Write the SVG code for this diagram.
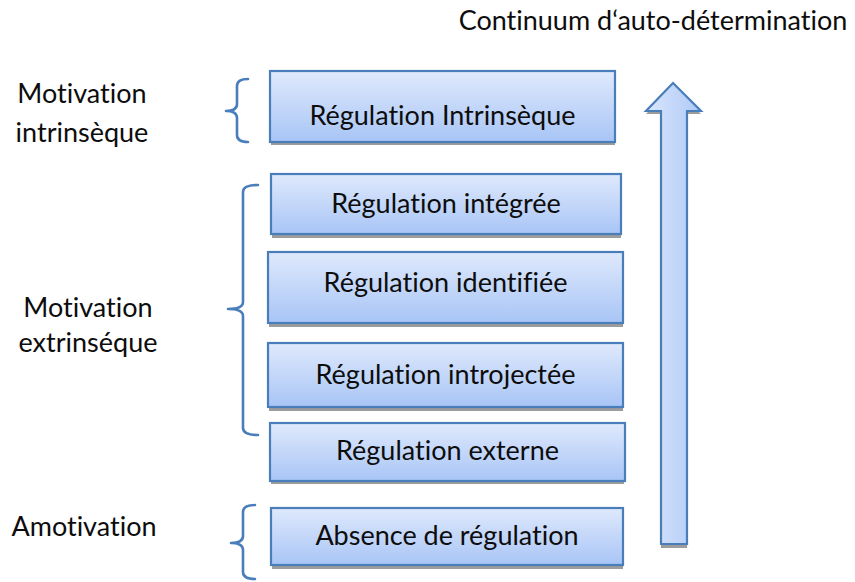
<svg xmlns="http://www.w3.org/2000/svg" width="855" height="582" viewBox="0 0 855 582">
  <style>
    text { font-family: "Lato", "Open Sans", "Liberation Sans", sans-serif; font-size: 27px; fill: #0d0d0d; font-variant-ligatures: none; font-feature-settings: "liga" 0, "clig" 0; }
    .label { text-anchor: middle; }
    .box { fill: url(#boxFill); stroke: #4a7ebb; stroke-width: 2.2; }
    .shadow { fill: #9c9c9c; }
    .brace { fill: none; stroke: #4a7ebb; stroke-width: 2.6; stroke-linecap: round; stroke-linejoin: round; }
  </style>
  <defs>
    <linearGradient id="boxFill" x1="0" y1="0" x2="0" y2="1">
      <stop offset="0" stop-color="#dfe9fc"/>
      <stop offset="1" stop-color="#a8c5f6"/>
    </linearGradient>
    <linearGradient id="arrowFill" x1="0" y1="0" x2="1" y2="0">
      <stop offset="0" stop-color="#dae6fc"/>
      <stop offset="1" stop-color="#aec9f7"/>
    </linearGradient>
  </defs>

  <rect width="855" height="582" fill="#ffffff"/>

  <!-- axis title -->
  <text id="continuum-title" x="653" y="30" class="label">Continuum d‘auto-détermination</text>

  <!-- side group labels -->
  <g id="label-intrinseque">
    <text class="label" x="82" y="103">Motivation</text>
    <text class="label" x="82" y="142">intrinsèque</text>
  </g>
  <g id="label-extrinseque">
    <text class="label" x="88" y="317">Motivation</text>
    <text class="label" x="88" y="352">extrinséque</text>
  </g>
  <g id="label-amotivation">
    <text class="label" x="84" y="536">Amotivation</text>
  </g>

  <!-- regulation boxes -->
  <g id="reg-intrinseque">
    <rect class="shadow" x="271" y="74" width="344" height="71"/>
    <rect class="box" x="270" y="71" width="345" height="71"/>
    <text class="label" x="442.5" y="125">Régulation Intrinsèque</text>
  </g>
  <g id="reg-integree">
    <rect class="shadow" x="272" y="177" width="349" height="61"/>
    <rect class="box" x="271" y="174" width="350" height="60"/>
    <text class="label" x="446" y="213">Régulation intégrée</text>
  </g>
  <g id="reg-identifiee">
    <rect class="shadow" x="269" y="256" width="354" height="71"/>
    <rect class="box" x="268" y="252" width="355" height="71"/>
    <text class="label" x="445.5" y="292">Régulation identifiée</text>
  </g>
  <g id="reg-introjectee">
    <rect class="shadow" x="269" y="347" width="354" height="64"/>
    <rect class="box" x="268" y="343" width="355" height="64"/>
    <text class="label" x="445.5" y="384">Régulation introjectée</text>
  </g>
  <g id="reg-externe">
    <rect class="shadow" x="271" y="426" width="353" height="58"/>
    <rect class="box" x="270" y="423" width="355" height="58"/>
    <text class="label" x="447.5" y="460">Régulation externe</text>
  </g>
  <g id="reg-absence">
    <rect class="shadow" x="272" y="511" width="351" height="58"/>
    <rect class="box" x="271" y="508" width="352" height="57"/>
    <text class="label" x="447" y="545">Absence de régulation</text>
  </g>

  <!-- continuum arrow -->
  <g id="continuum-arrow">
    <path class="shadow" d="M673,86 L701,114 L687,114 L687,548 L661,548 L661,114 L646,114 Z"/>
    <path d="M673,83 L701,111 L687,111 L687,544 L661,544 L661,111 L646,111 Z" fill="url(#arrowFill)" stroke="#4a7ebb" stroke-width="2.2" stroke-linejoin="miter"/>
  </g>

  <!-- grouping braces -->
  <g id="connectors">
    <path class="brace" d="M248,79 Q237,79 237,86 L237,104 Q237,111 226,111 Q237,111 237,118 L237,135 Q237,142 248,142"/>
    <path class="brace" d="M258,185 Q243,185 243,192 L243,302 Q243,309 228,309 Q243,309 243,316 L243,428 Q243,435 258,435"/>
    <path class="brace" d="M255,505 Q243,505 243,512 L243,536 Q243,543 231,543 Q243,543 243,550 L243,572 Q243,579 255,579"/>
  </g>
</svg>
